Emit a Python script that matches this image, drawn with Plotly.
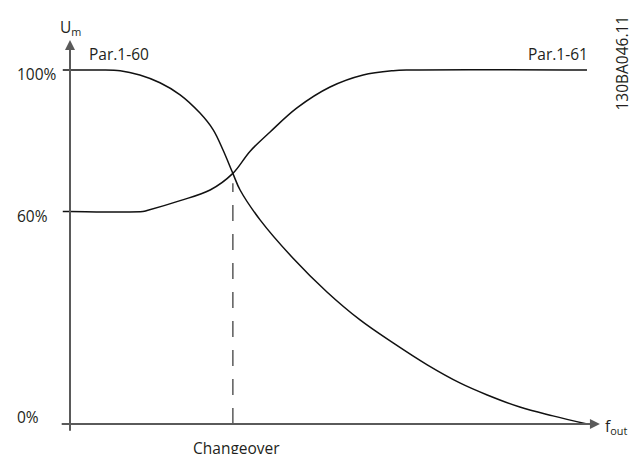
import plotly.graph_objects as go

# output frequency (% of span) and motor voltage Um (%)
f_par160 = [-1.4, 0, 5.8, 9.7, 13.5, 17.4, 21.3, 25.1, 27.7, 29.6, 31.5, 32.9, 36.8,
            43.1, 49.7, 56.1, 62.5, 69.1, 75.4, 80.7, 87.0, 93.4, 100]
u_par160 = [100, 100, 100, 99.8, 98.6, 96.4, 93.0, 87.9, 83.1, 77.4, 70.8, 66.1, 57.6,
            46.9, 37.3, 29.4, 22.9, 16.7, 11.6, 8.2, 4.8, 2.3, 0]

f_par161 = [-1.4, 0, 14.1, 14.9, 21.3, 27.1, 31.5, 34.8, 38.7, 43.9, 50.3, 56.7, 62.5,
            65.8, 100]
u_par161 = [60, 60, 60, 60.3, 63.1, 66.1, 70.8, 77.0, 82.5, 89.3, 95.2, 98.6, 99.8,
            100, 100]

changeover_f = 31.5
changeover_top = 68.0

y_tickvals = [100, 60, 0]
y_ticktext = ["100%", "60%", "0%"]

FONT = "Open Sans"
TEXT = "#231f20"
AXIS = "#5a5a5a"

# page has an 8px body margin, so the figure is 8px smaller on each side
W, H = 631, 446
PX_X, PX_Y = 5.17, 3.54   # px per unit
X0_PX, Y0_PX = 62, 416    # origin inside the figure

fig = go.Figure()

fig.add_trace(
    go.Scatter(
        x=[changeover_f, changeover_f],
        y=[0, changeover_top],
        mode="lines",
        line=dict(color=AXIS, width=1.5, dash="16px,13px"),
    )
)

for fx, uy in [(f_par160, u_par160), (f_par161, u_par161)]:
    fig.add_trace(
        go.Scatter(
            x=fx,
            y=uy,
            mode="lines",
            line=dict(color="#111111", width=1.5, shape="spline", smoothing=1.0),
        )
    )

# axes drawn as arrows
fig.add_annotation(
    x=0, y=108.5, ax=0, ay=-2.3, xref="x", yref="y", axref="x", ayref="y",
    text="", showarrow=True, arrowhead=2, arrowsize=1, arrowwidth=2,
    arrowcolor=AXIS, standoff=0,
)
fig.add_annotation(
    x=102.5, y=0, ax=-1.9, ay=0, xref="x", yref="y", axref="x", ayref="y",
    text="", showarrow=True, arrowhead=2, arrowsize=1, arrowwidth=2,
    arrowcolor=AXIS, standoff=0,
)

tick_y = {100: 98.9, 60: 58.8, 0: 2.0}
for v, t in zip(y_tickvals, y_ticktext):
    fig.add_annotation(
        x=-10.6, y=tick_y[v], text=t, showarrow=False,
        xanchor="left", yanchor="middle",
    )

labels = [
    dict(x=-2.3, y=112.0, text="U<sub>m</sub>", xanchor="left"),
    dict(x=3.3, y=104.6, text="Par.1-60", xanchor="left"),
    dict(x=100.5, y=104.6, text="Par.1-61", xanchor="right"),
    dict(x=changeover_f + 0.8, y=-6.8, text="Changeover", xanchor="center"),
    dict(x=103.1, y=-0.6, text="f<sub>out</sub>", xanchor="left"),
]
for lab in labels:
    fig.add_annotation(showarrow=False, yanchor="middle", **lab)

fig.add_annotation(
    x=106.7, y=102.0, text="130BA046.11", textangle=-90, showarrow=False,
    xanchor="center", yanchor="middle",
)

fig.update_layout(
    width=W,
    height=H,
    margin=dict(l=0, r=0, t=0, b=0),
    plot_bgcolor="white",
    paper_bgcolor="white",
    showlegend=False,
    font=dict(family=FONT, size=15.5, color=TEXT),
    xaxis=dict(range=[-X0_PX / PX_X, (W - X0_PX) / PX_X], visible=False, fixedrange=True),
    yaxis=dict(range=[-(H - Y0_PX) / PX_Y, Y0_PX / PX_Y], visible=False, fixedrange=True),
)

fig.write_html("out.html")
